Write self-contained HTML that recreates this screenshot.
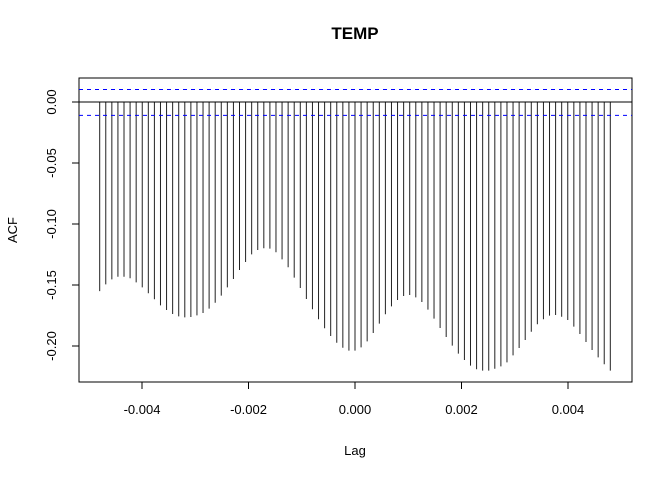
<!DOCTYPE html>
<html><head><meta charset="utf-8"><style>
body{margin:0;background:#fff}
svg text{font-family:"Liberation Sans",Arial,sans-serif;fill:#000}
</style></head><body>
<svg id="chart" width="672" height="480" viewBox="0 0 672 480">
<text x="355" y="39" text-anchor="middle" font-size="17" font-weight="bold">TEMP</text>
<text x="355" y="455" text-anchor="middle" font-size="13">Lag</text>
<text transform="translate(17,230) rotate(-90)" text-anchor="middle" font-size="13">ACF</text>
<rect x="79" y="78" width="553" height="304" fill="none" stroke="#000" stroke-width="1"/>
<g id="xaxis"></g>
<g id="yaxis"></g>
<g id="bars"></g>
<g id="refs"></g>
</svg>
<script>
const lagStep = 1/8760;
const lagIndex = [];
for (let k=-42;k<=42;k++) lagIndex.push(k);
const acfValues = [
-0.1550,-0.1495,-0.1454,-0.1432,-0.1432,-0.1445,-0.1478,-0.1519,-0.1568,-0.1617,
-0.1667,-0.1705,-0.1738,-0.1757,-0.1765,-0.1762,-0.1749,-0.1730,-0.1694,-0.1645,
-0.1587,-0.1519,-0.1451,-0.1377,-0.1311,-0.1249,-0.1213,-0.1199,-0.1202,-0.1232,
-0.1290,-0.1355,-0.1440,-0.1525,-0.1615,-0.1699,-0.1781,-0.1855,-0.1918,-0.1973,
-0.2014,-0.2038,-0.2038,
-0.2011,-0.1962,-0.1893,-0.1817,-0.1740,-0.1675,-0.1623,-0.1590,-0.1582,-0.1601,
-0.1639,-0.1702,-0.1776,-0.1852,-0.1926,-0.1997,-0.2063,-0.2115,-0.2161,-0.2191,
-0.2202,-0.2202,-0.2186,-0.2167,-0.2134,-0.2077,-0.2016,-0.1951,-0.1883,-0.1822,
-0.1781,-0.1751,-0.1746,-0.1760,-0.1787,-0.1841,-0.1902,-0.1967,-0.2033,-0.2093,
-0.2150,-0.2202];
const xTicks = [-0.004,-0.002,0,0.002,0.004];
const xTickLabels = ["-0.004","-0.002","0.000","0.002","0.004"];
const yTicks = [0,-0.05,-0.10,-0.15,-0.20];
const yTickLabels = ["0.00","-0.05","-0.10","-0.15","-0.20"];
const ciUpper = 0.0102, ciLower = -0.0110;

const NS="http://www.w3.org/2000/svg";
const xs = v => 355 + v*53250;
const ys = v => 102 - v*1220;
function mk(tag, attrs, parent){const e=document.createElementNS(NS,tag);for(const k in attrs)e.setAttribute(k,attrs[k]);parent.appendChild(e);return e;}
const xa=document.getElementById('xaxis'), ya=document.getElementById('yaxis'), bars=document.getElementById('bars'), refs=document.getElementById('refs');
mk('line',{x1:xs(xTicks[0]),x2:xs(xTicks[xTicks.length-1]),y1:382,y2:382,stroke:'#000'},xa);
xTicks.forEach((t,i)=>{
  const l=mk('line',{x1:xs(t),x2:xs(t),y1:382,y2:389,stroke:'#000'},xa);
  
  
  const tx=mk('text',{x:xs(t),y:414,'text-anchor':'middle','font-size':'13'},xa);
  tx.textContent=xTickLabels[i];
  
  
});
mk('line',{x1:79,x2:79,y1:ys(yTicks[0]),y2:ys(yTicks[yTicks.length-1]),stroke:'#000'},ya);
yTicks.forEach((t,i)=>{
  const l=mk('line',{x1:72,x2:79,y1:ys(t),y2:ys(t),stroke:'#000'},ya);
  
  
  const tx=mk('text',{transform:`translate(56,${ys(t)}) rotate(-90)`,'text-anchor':'middle','font-size':'13'},ya);
  tx.textContent=yTickLabels[i];
  
  
});
lagIndex.forEach((k,i)=>{
  const x=xs(k*lagStep);
  const b=mk('line',{x1:x,x2:x,y1:ys(0),y2:ys(acfValues[i]),stroke:'#222','stroke-width':1},bars);
  
  
});
const z=mk('line',{x1:79,x2:632,y1:ys(0),y2:ys(0),stroke:'#000'},refs);


const cu=mk('line',{x1:79,x2:632,y1:ys(ciUpper),y2:ys(ciUpper),stroke:'#0000ff','stroke-dasharray':'4,4'},refs);


const cl=mk('line',{x1:79,x2:632,y1:ys(ciLower),y2:ys(ciLower),stroke:'#0000ff','stroke-dasharray':'4,4'},refs);


</script>
</body></html>
